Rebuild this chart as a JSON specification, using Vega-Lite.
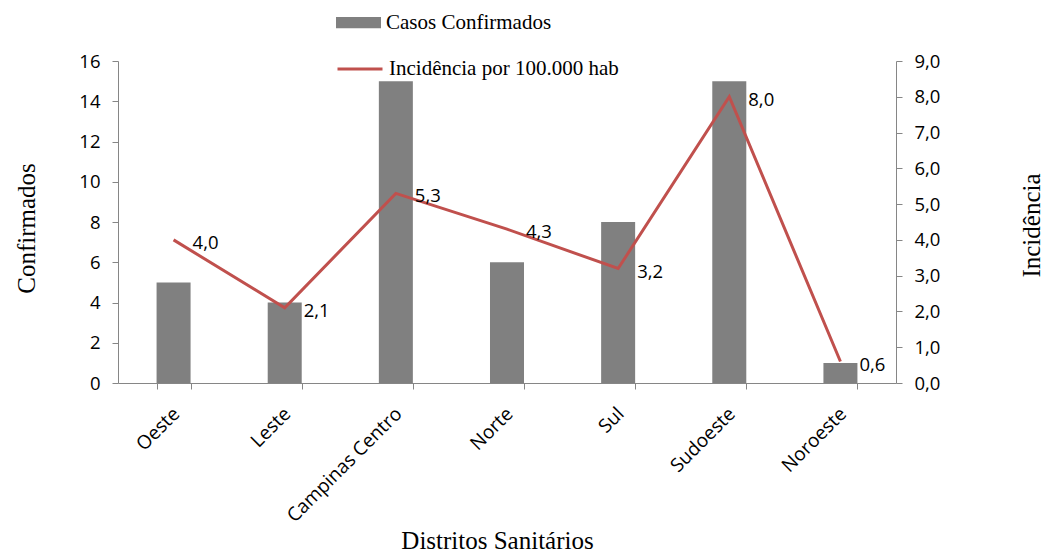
{
  "$schema": "https://vega.github.io/schema/vega-lite/v6.json",
  "width": 778,
  "height": 322,
  "autosize": {"type": "none"},
  "padding": {"left": 118, "top": 61, "right": 149, "bottom": 170},
  "background": "white",
  "config": {
    "view": {"stroke": null},
    "axis": {
      "grid": false,
      "domainColor": "#868686",
      "tickColor": "#868686",
      "tickSize": 6,
      "labelColor": "black",
      "labelFont": "Open Sans",
      "labelFontSize": 18.5,
      "titleFont": "Liberation Serif",
      "titleFontSize": 25,
      "titleFontWeight": "normal",
      "titleColor": "black"
    }
  },
  "data": {
    "values": [
      {"distrito": "Oeste", "casos": 5, "inc": 4.0},
      {"distrito": "Leste", "casos": 4, "inc": 2.1},
      {"distrito": "Campinas Centro", "casos": 15, "inc": 5.3},
      {"distrito": "Norte", "casos": 6, "inc": 4.3},
      {"distrito": "Sul", "casos": 8, "inc": 3.2},
      {"distrito": "Sudoeste", "casos": 15, "inc": 8.0},
      {"distrito": "Noroeste", "casos": 1, "inc": 0.6}
    ]
  },
  "encoding": {
    "x": {
      "field": "distrito",
      "type": "nominal",
      "sort": null,
      "scale": {"paddingInner": 0.694, "paddingOuter": 0.347},
      "axis": {
        "labelAngle": -45,
        "tickBand": "extent",
        "labelPadding": 15,
        "labelFontSize": 19,
        "labelOffset": -4,
        "title": "Distritos Sanitários",
        "titleX": 379,
        "titleY": 145,
        "titleBaseline": "top"
      }
    }
  },
  "layer": [
    {
      "mark": {"type": "bar", "color": "#808080"},
      "encoding": {
        "y": {
          "field": "casos",
          "type": "quantitative",
          "scale": {"domain": [0, 16], "nice": false},
          "axis": {
            "values": [0, 2, 4, 6, 8, 10, 12, 14, 16],
            "labelPadding": 12,
            "title": "Confirmados",
            "titleAngle": 270,
            "titleX": -92,
            "titleY": 167,
            "titleBaseline": "middle",
            "titleAlign": "center"
          }
        },
        "color": {
          "datum": "Casos Confirmados",
          "type": "nominal",
          "scale": {"range": ["#808080"]},
          "legend": {
            "title": null,
            "orient": "none",
            "legendX": 218,
            "legendY": -61,
            "padding": 0,
            "symbolType": "M-1,-0.25H1V0.25H-1Z",
            "symbolSize": 2025,
            "symbolStrokeWidth": 0,
            "labelFont": "Liberation Serif",
            "labelFontSize": 21,
            "labelColor": "black",
            "labelOffset": 5,
            "labelLimit": 400
          }
        }
      }
    },
    {
      "transform": [
        {"calculate": "replace(format(datum.inc, '.1f'), '.', ',')", "as": "label"}
      ],
      "encoding": {
        "y": {
          "field": "inc",
          "type": "quantitative",
          "scale": {"domain": [0, 9], "nice": false},
          "axis": {
            "orient": "right",
            "values": [0, 1, 2, 3, 4, 5, 6, 7, 8, 9],
            "labelExpr": "replace(format(datum.value, '.1f'), '.', ',')",
            "labelPadding": 12,
            "title": "Incidência",
            "titleAngle": 270,
            "titleX": 135,
            "titleY": 164,
            "titleBaseline": "middle",
            "titleAlign": "center"
          }
        }
      },
      "layer": [
        {
          "mark": {"type": "line", "color": "#c0504d", "strokeWidth": 3},
          "encoding": {
            "stroke": {
              "datum": "Incidência por 100.000 hab",
              "type": "nominal",
              "scale": {"range": ["#c0504d"]},
              "legend": {
                "title": null,
                "orient": "none",
                "legendX": 218,
                "legendY": -16,
                "padding": 0,
                "symbolType": "stroke",
                "symbolSize": 2025,
                "symbolStrokeWidth": 3,
                "labelFont": "Liberation Serif",
                "labelFontSize": 21,
                "labelColor": "black",
                "labelOffset": 5,
                "labelLimit": 400
              }
            }
          }
        },
        {
          "mark": {"type": "text", "align": "left", "baseline": "middle", "dx": 19, "dy": 3, "font": "Open Sans", "fontSize": 18.5, "color": "black"},
          "encoding": {"text": {"field": "label", "type": "nominal"}}
        }
      ]
    }
  ],
  "resolve": {"scale": {"y": "independent"}}
}
